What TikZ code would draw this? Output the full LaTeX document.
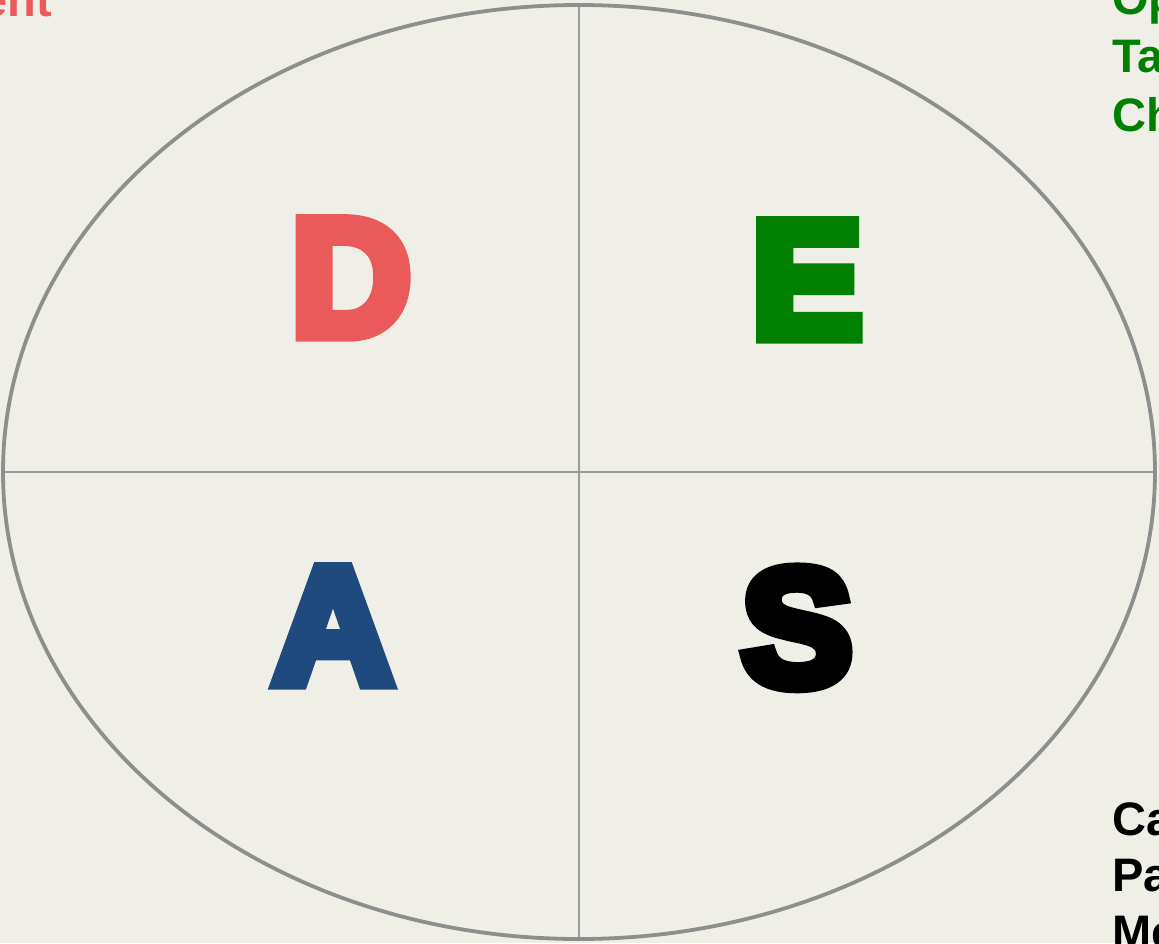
\documentclass[tikz,border=0pt]{standalone}
\usepackage{fontspec}
\setmainfont{Liberation Sans}
\newfontfamily\heavyfont[FakeBold=8]{Liberation Sans Bold}
\definecolor{bg}{HTML}{F0EFE7}
\definecolor{ringgray}{HTML}{8E8E8E}
\definecolor{crossgray}{HTML}{9A9A9A}
\definecolor{dred}{HTML}{EA5A5A}
\definecolor{egreen}{HTML}{008000}
\definecolor{ablue}{HTML}{1F4A7E}
\tikzset{
  bigletter/.style={anchor=base, inner sep=0pt, font=\heavyfont\fontsize{166}{166}\selectfont},
  sidetext/.style={anchor=base west, inner sep=0pt, font=\fontsize{47}{58}\selectfont\bfseries},
}
\begin{document}
\begin{tikzpicture}[x=1pt,y=-1pt]
\fill[bg] (0,0) rectangle (1159,943);
\useasboundingbox (0,0) rectangle (1159,943);
\clip (0,0) rectangle (1159,943);
% quadrants
\coordinate (ctr) at (579,472);
\coordinate (top) at (579,5);
\coordinate (bot) at (579,939);
\coordinate (lft) at (3,472);
\coordinate (rgt) at (1155,472);
\draw[crossgray, line width=2pt] (top) -- (bot);
\draw[crossgray, line width=2pt] (lft) -- (rgt);
\draw[ringgray, line width=3.8pt] (ctr) ellipse [x radius=576, y radius=467];
% letters
\node[bigletter, text=dred]   (D) at (351,335) {D};
\node[bigletter, text=egreen] (E) at (807,337) {E};
\node[bigletter, text=ablue]  (A) at (333,683) {A};
\node[bigletter, text=black]  (S) at (797,685) {S};
% side texts
\node[anchor=base east, inner sep=0pt, font=\fontsize{47}{58}\selectfont\bfseries, text=dred] (t1) at (52,16) {ent};
\node[sidetext, text=egreen] (g1) at (1112,14) {Op};
\node[sidetext, text=egreen] (g2) at (1112,72) {Ta};
\node[sidetext, text=egreen] (g3) at (1112,131) {Ch};
\node[sidetext, text=black] (k1) at (1112,835) {Ca};
\node[sidetext, text=black] (k2) at (1112,891) {Pa};
\node[sidetext, text=black] (k3) at (1112,948) {Me};
\end{tikzpicture}
\end{document}
